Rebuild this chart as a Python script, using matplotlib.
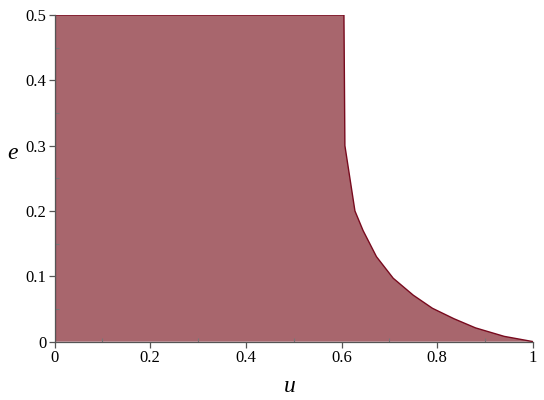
import numpy as np
import matplotlib.pyplot as plt
from matplotlib.ticker import MultipleLocator

# boundary of the shaded region
u_vals = [0.0, 0.605, 0.607, 0.628, 0.645, 0.673, 0.708, 0.75, 0.79, 0.835, 0.88, 0.94, 1.0]
e_vals = [0.5, 0.5, 0.3, 0.2, 0.17, 0.13, 0.097, 0.071, 0.051, 0.035, 0.021, 0.008, 0.0]

x_ticks = [0, 0.2, 0.4, 0.6, 0.8, 1]
x_labels = ["0", "0.2", "0.4", "0.6", "0.8", "1"]
y_ticks = [0, 0.1, 0.2, 0.3, 0.4, 0.5]
y_labels = ["0", "0.1", "0.2", "0.3", "0.4", "0.5"]

fig = plt.figure(figsize=(5.44, 4.0), dpi=100)
ax = fig.add_axes([0.1002, 0.146, 0.8794, 0.8165])

ax.fill_between(u_vals, e_vals, 0, facecolor="#a8666d", edgecolor="none", zorder=1)
ax.plot(u_vals, e_vals, color="#780a1e", lw=1.0, zorder=2)
ax.plot([1.0, 0.0, 0.0], [0.0, 0.0, 0.5], color="#780a1e", lw=0.8, zorder=2)

ax.set_xlim(0, 1)
ax.set_ylim(0, 0.5)

for s in ["top", "right"]:
    ax.spines[s].set_visible(False)
for s in ["left", "bottom"]:
    ax.spines[s].set_color("#555555")
    ax.spines[s].set_linewidth(0.9)
    ax.spines[s].set_zorder(3)

ax.set_xticks(x_ticks)
ax.set_xticklabels(x_labels)
ax.set_yticks(y_ticks)
ax.set_yticklabels(y_labels)
ax.xaxis.set_minor_locator(MultipleLocator(0.1))
ax.yaxis.set_minor_locator(MultipleLocator(0.05))

for lab in ax.get_xticklabels() + ax.get_yticklabels():
    lab.set_fontfamily("Liberation Serif")
    lab.set_fontsize(12)
ax.tick_params(which="major", direction="out", length=4, width=0.9, color="#555555", pad=2)
ax.tick_params(which="minor", direction="in", length=3, width=0.8, color="#777777")

ax.set_xlabel("u", fontfamily="Liberation Serif", fontstyle="italic", fontsize=17)
ax.set_ylabel("e", fontfamily="Liberation Serif", fontstyle="italic", fontsize=17, rotation=0)
ax.xaxis.set_label_coords(0.492, -0.105)
ax.yaxis.set_label_coords(-0.087, 0.545)

fig.savefig("out.png", dpi=100)
